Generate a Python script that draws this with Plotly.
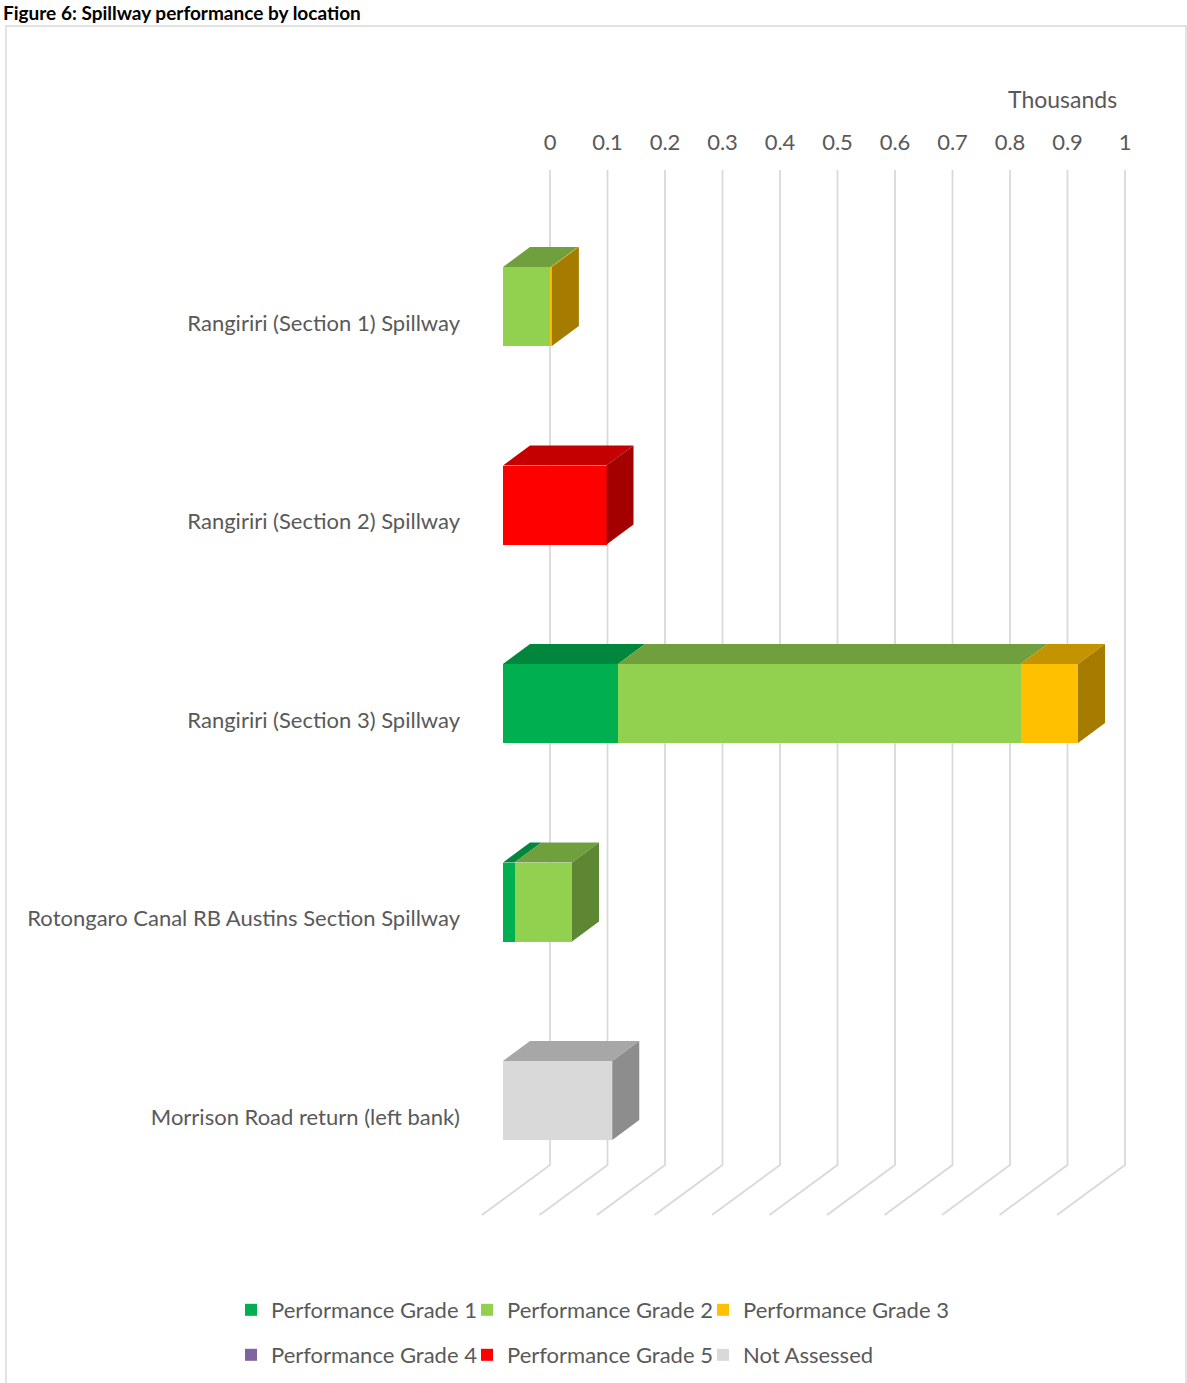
import plotly.graph_objects as go

# Spillway lengths per performance grade (metres; axis shows thousands)
categories = [
    "Rangiriri (Section 1) Spillway",
    "Rangiriri (Section 2) Spillway",
    "Rangiriri (Section 3) Spillway",
    "Rotongaro Canal RB Austins Section Spillway",
    "Morrison Road return (left bank)",
]
grade_1 = [0, 0, 200, 20, 0]
grade_2 = [83, 0, 700, 100, 0]
grade_3 = [2, 0, 100, 0, 0]
grade_4 = [0, 0, 0, 0, 0]
grade_5 = [0, 180, 0, 0, 0]
not_assessed = [0, 0, 0, 0, 190]

series_names = ["Performance Grade 1", "Performance Grade 2", "Performance Grade 3",
                "Performance Grade 4", "Performance Grade 5", "Not Assessed"]
series_values = [grade_1, grade_2, grade_3, grade_4, grade_5, not_assessed]
colors = ["#00B050", "#92D050", "#FFC000", "#8064A2", "#FF0000", "#D9D9D9"]

tick_vals = [0, 0.1, 0.2, 0.3, 0.4, 0.5, 0.6, 0.7, 0.8, 0.9, 1]
tick_labels = ["0", "0.1", "0.2", "0.3", "0.4", "0.5", "0.6", "0.7", "0.8", "0.9", "1"]

FONT = "Lato"
TXT = "#595959"
W, H = 1187, 1383
L, R, T, B = 475, 1140, 170, 1220          # plot area, px
X0_BACK, X0_FRONT, XSCALE = 550, 503, 575  # zero on back wall / front plane
Y0, YSTEP = 306.5, 198.5
DX, DY = 27 / XSCALE, 20 / YSTEP           # 3D depth offset (data units)
BAR_W = 79 / YSTEP


def px_x(p):
    return (p - L) / (R - L)


def px_y(p):
    return (B - p) / (B - T)


def shade(hex_col, f):
    h = hex_col.lstrip("#")
    r, g, b = (int(h[i:i + 2], 16) for i in (0, 2, 4))
    return "#%02X%02X%02X" % (int(r * f), int(g * f), int(b * f))


fig = go.Figure()

# back wall gridlines + floor lines
y_top = (T - Y0) / YSTEP
y_floor_back = (1165 - Y0) / YSTEP
y_floor_front = (1215 - Y0) / YSTEP
gx, gy = [], []
for t in tick_vals:
    gx += [t, t, t - 68 / XSCALE, None]
    gy += [y_top, y_floor_back, y_floor_front, None]
fig.add_trace(go.Scatter(x=gx, y=gy, mode="lines", line=dict(color="#D9D9D9", width=1.8),
                         hoverinfo="skip", showlegend=False))

# front faces: stacked horizontal bars on the front-plane axis
for k, (name, vals, col) in enumerate(zip(series_names, series_values, colors)):
    fig.add_trace(go.Bar(
        y=list(range(len(categories))), x=[v / 1000 for v in vals], name=name,
        orientation="h", marker=dict(color=col, line=dict(width=0)), width=BAR_W,
        xaxis="x2", legend="legend" if k < 3 else "legend2",
    ))

# spacer entry so the last item of the first legend row is not clipped
fig.add_trace(go.Scatter(x=[None], y=[None], name=" ", mode="markers",
                         marker=dict(color="rgba(0,0,0,0)"), legend="legend",
                         hoverinfo="skip", xaxis="x2"))

# top and side faces
for i in range(len(categories)):
    top = i - BAR_W / 2
    bot = i + BAR_W / 2
    start = 0
    segs = []
    for vals, col in zip(series_values, colors):
        v = vals[i] / 1000
        if v > 0:
            segs.append((start, start + v, col))
            start += v
    for j, (a, b, col) in enumerate(segs):
        fig.add_trace(go.Scatter(
            x=[a, b, b + DX, a + DX, a], y=[top, top, top - DY, top - DY, top],
            fill="toself", fillcolor=shade(col, 0.77), mode="lines", line=dict(width=0),
            xaxis="x2", hoverinfo="skip", showlegend=False))
        if j == len(segs) - 1:
            fig.add_trace(go.Scatter(
                x=[b, b + DX, b + DX, b, b], y=[top, top - DY, bot - DY, bot, top],
                fill="toself", fillcolor=shade(col, 0.65), mode="lines", line=dict(width=0),
                xaxis="x2", hoverinfo="skip", showlegend=False))

legend_style = dict(orientation="h", xanchor="left", yanchor="middle",
                    font=dict(family=FONT, size=22, color=TXT), itemwidth=30,
                    traceorder="normal", entrywidth=191, entrywidthmode="pixels",
                    bgcolor="rgba(0,0,0,0)", borderwidth=0)

fig.update_layout(
    width=W, height=H,
    margin=dict(l=L, r=W - R, t=T, b=H - B, autoexpand=False),
    paper_bgcolor="white", plot_bgcolor="white",
    barmode="stack",
    font=dict(family=FONT, size=22, color=TXT),
    xaxis=dict(range=[(L - X0_BACK) / XSCALE, (R - X0_BACK) / XSCALE], side="top",
               tickvals=tick_vals, ticktext=tick_labels, showgrid=False, zeroline=False,
               showline=False, ticks="", ticklabelstandoff=15,
               tickfont=dict(family=FONT, size=22, color=TXT)),
    xaxis2=dict(range=[(L - X0_FRONT) / XSCALE, (R - X0_FRONT) / XSCALE], overlaying="x",
                visible=False),
    yaxis=dict(range=[(B - Y0) / YSTEP, (T - Y0) / YSTEP], showgrid=False, zeroline=False,
               showline=False, ticks="",
               tickvals=[i + 16.5 / YSTEP for i in range(len(categories))], ticktext=categories,
               ticklabelstandoff=14, tickfont=dict(family=FONT, size=22, color=TXT)),
    legend=dict(legend_style, x=px_x(231), y=px_y(1310)),
    legend2=dict(legend_style, x=px_x(231), y=px_y(1355)),
    annotations=[
        dict(text="Thousands", xref="paper", yref="paper", x=px_x(1062), xanchor="center",
             y=px_y(99), yanchor="middle", showarrow=False,
             font=dict(family=FONT, size=23, color=TXT)),
        dict(text="<b>Figure 6: Spillway performance by location</b>", xref="paper", yref="paper",
             x=px_x(1), xanchor="left", y=px_y(12), yanchor="middle",
             showarrow=False, font=dict(family=FONT, size=19, color="black")),
    ],
    shapes=[dict(type="rect", xref="paper", yref="paper",
                 x0=px_x(6), x1=px_x(1186), y0=px_y(1400), y1=px_y(26),
                 line=dict(color="#D9D9D9", width=1.5), layer="below")],
)

fig.write_html("out.html", config={"displayModeBar": False},
               post_script="document.body.style.margin='0';")
